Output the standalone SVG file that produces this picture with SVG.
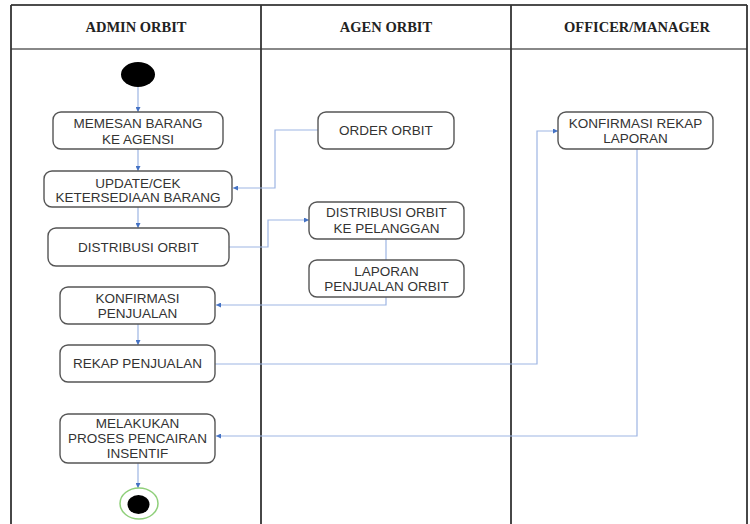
<svg xmlns="http://www.w3.org/2000/svg" width="750" height="524" viewBox="0 0 750 524">
<defs>
<style>
.hdr{font-family:"Liberation Serif","Times New Roman",serif;font-weight:bold;font-size:14.5px;fill:#222;text-anchor:middle}
.lbl{font-family:"Liberation Sans",Arial,sans-serif;font-size:13.5px;fill:#333;text-anchor:middle}
.box{fill:#fff;stroke:#555;stroke-width:1.4}
.con{fill:none;stroke:#9db5e3;stroke-width:1.2}
.lane{stroke:#333;stroke-width:1.8}
</style>
<marker id="arr" viewBox="0 0 10 10" refX="10" refY="5" markerWidth="5" markerHeight="5" orient="auto" markerUnits="userSpaceOnUse">
<path d="M0,0 L10,5 L0,10 z" fill="#4472c4"/>
</marker>
</defs>
<rect width="750" height="524" fill="#fff"/>
<g id="swimlanes">
<line x1="11" y1="5" x2="747" y2="5" stroke="#111" stroke-width="1.5"/>
<line x1="11" y1="49" x2="747" y2="49" stroke="#888" stroke-width="2"/>
<line class="lane" x1="11" y1="5" x2="11" y2="524"/>
<line class="lane" x1="261" y1="5" x2="261" y2="524"/>
<line class="lane" x1="511" y1="5" x2="511" y2="524"/>
<line class="lane" x1="747" y1="5" x2="747" y2="524"/>
<text class="hdr" x="136" y="32">ADMIN ORBIT</text>
<text class="hdr" x="386" y="32">AGEN ORBIT</text>
<text class="hdr" x="637" y="32">OFFICER/MANAGER</text>
</g>
<g id="connectors">
<line class="con" x1="138" y1="87" x2="138" y2="112" marker-end="url(#arr)"/>
<line class="con" x1="138" y1="149" x2="138" y2="171" marker-end="url(#arr)"/>
<line class="con" x1="138" y1="207" x2="138" y2="228" marker-end="url(#arr)"/>
<line class="con" x1="138" y1="324" x2="138" y2="345" marker-end="url(#arr)"/>
<line class="con" x1="138" y1="463" x2="138" y2="488" marker-end="url(#arr)"/>
<polyline class="con" points="318,130 275,130 275,188 233,188" marker-end="url(#arr)"/>
<polyline class="con" points="229,247 268,247 268,220 309,220" marker-end="url(#arr)"/>
<line class="con" x1="386" y1="239" x2="386" y2="260"/>
<polyline class="con" points="386,297 386,305 216,305" marker-end="url(#arr)"/>
<polyline class="con" points="215,364 537,364 537,131 558,131" marker-end="url(#arr)"/>
<polyline class="con" points="637,149 637,436 216,436" marker-end="url(#arr)"/>
</g>
<g id="start">
<ellipse cx="138" cy="74.5" rx="17" ry="12.5" fill="#000"/>
</g>
<g id="memesan">
<rect class="box" x="53" y="112" width="170" height="37" rx="8"/>
<text class="lbl" x="138" y="128">MEMESAN BARANG</text>
<text class="lbl" x="138" y="143.5">KE AGENSI</text>
</g>
<g id="update">
<rect class="box" x="44" y="171" width="188" height="36" rx="8"/>
<text class="lbl" x="138" y="187.5">UPDATE/CEK</text>
<text class="lbl" x="138" y="202">KETERSEDIAAN BARANG</text>
</g>
<g id="distribusi">
<rect class="box" x="48" y="228" width="181" height="38" rx="8"/>
<text class="lbl" x="138.5" y="251.5">DISTRIBUSI ORBIT</text>
</g>
<g id="konfirmasi-penjualan">
<rect class="box" x="60" y="287" width="155" height="37" rx="8"/>
<text class="lbl" x="137.5" y="302.5">KONFIRMASI</text>
<text class="lbl" x="137.5" y="318">PENJUALAN</text>
</g>
<g id="rekap">
<rect class="box" x="60" y="345" width="155" height="37" rx="8"/>
<text class="lbl" x="137.5" y="368">REKAP PENJUALAN</text>
</g>
<g id="melakukan">
<rect class="box" x="60" y="414" width="155" height="49" rx="8"/>
<text class="lbl" x="137.5" y="427.5">MELAKUKAN</text>
<text class="lbl" x="137.5" y="443">PROSES PENCAIRAN</text>
<text class="lbl" x="137.5" y="458">INSENTIF</text>
</g>
<g id="end">
<ellipse cx="139" cy="503.5" rx="19" ry="15.5" fill="#fff" stroke="#8fcf7a" stroke-width="1.5"/>
<ellipse cx="138.5" cy="504.5" rx="11" ry="9.5" fill="#000"/>
</g>
<g id="order">
<rect class="box" x="318" y="112" width="136" height="37" rx="8"/>
<text class="lbl" x="386" y="135">ORDER ORBIT</text>
</g>
<g id="distribusi-pelanggan">
<rect class="box" x="309" y="202" width="155" height="37" rx="8"/>
<text class="lbl" x="386.5" y="216.5">DISTRIBUSI ORBIT</text>
<text class="lbl" x="386.5" y="232.5">KE PELANGGAN</text>
</g>
<g id="laporan">
<rect class="box" x="309" y="260" width="155" height="37" rx="8"/>
<text class="lbl" x="386.5" y="275.5">LAPORAN</text>
<text class="lbl" x="386.5" y="291">PENJUALAN ORBIT</text>
</g>
<g id="konfirmasi-rekap">
<rect class="box" x="558" y="112" width="155" height="37" rx="8"/>
<text class="lbl" x="635.5" y="128">KONFIRMASI REKAP</text>
<text class="lbl" x="635.5" y="143">LAPORAN</text>
</g>
</svg>
